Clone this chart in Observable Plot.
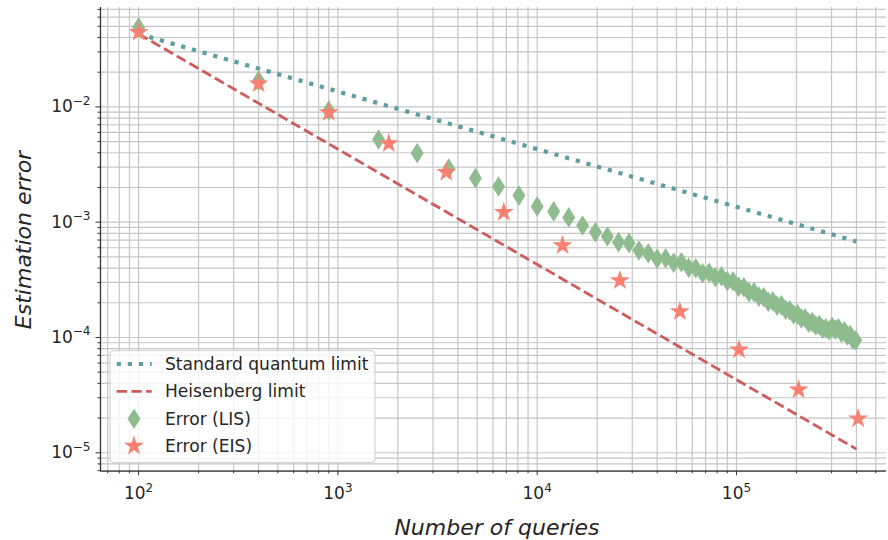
<!DOCTYPE html>
<html><head><meta charset="utf-8">
<script src="https://cdn.jsdelivr.net/npm/d3@7"></script>
<script src="https://cdn.jsdelivr.net/npm/@observablehq/plot@0.6"></script>
<style>
html,body{margin:0;padding:0;background:#fff;}
#chart{width:888px;height:540px;}
</style></head><body><div id="chart"></div>
<script>
// ---- data ----
const lisQueries = [100, 400, 900, 1600, 2500, 3600, 4900, 6400, 8100, 10000, 12100, 14400, 16900, 19600, 22500, 25600, 28900, 32400, 36100, 40000, 44100, 48400, 52900, 57600, 62500, 67600, 72900, 78400, 84100, 90000, 96100, 102400, 108900, 115600, 122500, 129600, 136900, 144400, 152100, 160000, 168100, 176400, 184900, 193600, 202500, 211600, 220900, 230400, 240100, 250000, 260100, 270400, 280900, 291600, 302500, 313600, 324900, 336400, 348100, 360000, 372100, 384400, 396900];
const lisError = [0.0489, 0.0169, 0.00931, 0.00521, 0.00397, 0.00292, 0.00241, 0.00204, 0.00170, 0.00137, 0.00124, 0.00110, 0.000936, 0.000819, 0.000752, 0.000671, 0.000658, 0.000568, 0.000538, 0.000483, 0.000486, 0.000445, 0.000449, 0.000403, 0.000398, 0.000361, 0.000364, 0.000333, 0.000340, 0.000308, 0.000307, 0.000276, 0.000273, 0.000247, 0.000247, 0.000226, 0.000223, 0.000204, 0.000206, 0.000189, 0.000190, 0.000174, 0.000172, 0.000158, 0.000159, 0.000146, 0.000147, 0.000134, 0.000136, 0.000127, 0.000128, 0.000119, 0.000120, 0.000115, 0.000123, 0.000117, 0.000120, 0.000110, 0.000113, 0.000104, 0.000105, 0.0000957, 0.0000946];
const eisQueries = [100, 400, 900, 1800, 3500, 6800, 13400, 26000, 52000, 103000, 205000, 408000];
const eisError = [0.0445, 0.0159, 0.00894, 0.00482, 0.00271, 0.00122, 0.000628, 0.000312, 0.000168, 0.0000782, 0.0000352, 0.0000197];
const sqlQueries = [100, 400000];
const sqlError = [0.043, 0.00068];
const hlQueries = [100, 400000];
const hlError = [0.043, 0.00001075];
const seriesNames = ["Standard quantum limit", "Heisenberg limit", "Error (LIS)", "Error (EIS)"];
const xMajorTicks = [100, 1000, 10000, 100000];
const yMajorTicks = [1e-5, 1e-4, 1e-3, 1e-2];
const xLabel = "Number of queries";
const yLabel = "Estimation error";

// ---- build tables ----
const lis = lisQueries.map((n, i) => ({n, err: lisError[i]}));
const eis = eisQueries.map((n, i) => ({n, err: eisError[i]}));
const sql = sqlQueries.map((n, i) => ({n, err: sqlError[i]}));
const hl = hlQueries.map((n, i) => ({n, err: hlError[i]}));

const xDomain = [64.4, 566000];
const yDomain = [6.92e-6, 0.0728];

function minorTicks(domain) {
  const out = [];
  for (let e = Math.floor(Math.log10(domain[0])); e <= Math.ceil(Math.log10(domain[1])); e++) {
    for (let m = 2; m <= 9; m++) {
      const v = +(m * Math.pow(10, e)).toPrecision(6);
      if (v >= domain[0] && v <= domain[1]) out.push(v);
    }
  }
  return out;
}
const xMinor = minorTicks(xDomain);
const yMinor = minorTicks(yDomain);
const powFmt = v => { const e = Math.round(Math.log10(v)); return "10^" + (e < 0 ? "\u2212" + (-e) : e); };

const thinDiamond = {
  draw(ctx, size) {
    const r = Math.sqrt(size / Math.PI), w = r * 0.63;
    ctx.moveTo(0, -r); ctx.lineTo(w, 0); ctx.lineTo(0, r); ctx.lineTo(-w, 0); ctx.closePath();
  }
};

const C = {sql: "#5F9EA0", hl: "#CD5C5C", lis: "#8FBC8F", eis: "#FA8072", grid: "#c6c6c6", ink: "#262626", axis: "#333333"};
const diamondR = 10.3, starR = 6.28;

const chart = Plot.plot({
  width: 888, height: 540,
  marginLeft: 100, marginRight: 2, marginTop: 7, marginBottom: 69.3,
  style: {fontFamily: "DejaVu Sans", fontSize: "17px", color: C.ink, background: "white"},
  x: {type: "log", domain: xDomain},
  y: {type: "log", domain: yDomain},
  marks: [
    Plot.gridX([...xMinor, ...xMajorTicks], {stroke: C.grid, strokeOpacity: 1, strokeWidth: 1.2}),
    Plot.gridY([...yMinor, ...yMajorTicks], {stroke: C.grid, strokeOpacity: 1, strokeWidth: 1.2}),
    Plot.line(sql, {x: "n", y: "err", stroke: C.sql, strokeWidth: 4.2, strokeDasharray: "4.2 6.9", strokeLinecap: "butt"}),
    Plot.line(hl, {x: "n", y: "err", stroke: C.hl, strokeWidth: 2.8, strokeDasharray: "10.3 4.4", strokeLinecap: "butt"}),
    Plot.dot(lis, {x: "n", y: "err", symbol: thinDiamond, r: diamondR, fill: C.lis, stroke: "none"}),
    Plot.dot(eis, {x: "n", y: "err", symbol: "star", r: starR, fill: C.eis, stroke: "none"}),
    Plot.ruleX([xDomain[0]], {stroke: C.axis, strokeWidth: 1.3}),
    Plot.ruleY([yDomain[0]], {stroke: C.axis, strokeWidth: 1.3}),
    Plot.axisX(xMajorTicks, {tickSize: 4.5, tickPadding: 11.5, tickFormat: powFmt, label: null, stroke: C.axis, fill: C.ink}),
    Plot.axisX(xMinor, {tickSize: 2.5, tickFormat: () => "", label: null, stroke: C.axis}),
    Plot.axisY(yMajorTicks, {tickSize: 4.5, tickPadding: 5.5, tickFormat: powFmt, label: null, stroke: C.axis, fill: C.ink}),
    Plot.axisY(yMinor, {tickSize: 2.5, tickFormat: () => "", label: null, stroke: C.axis})
  ]
});
document.getElementById("chart").appendChild(chart);

const svg = d3.select(chart);
// superscripts in tick labels
svg.selectAll("text").each(function () {
  const t = this.textContent;
  if (t.includes("^")) {
    const [b, e] = t.split("^");
    const el = d3.select(this);
    el.text(null);
    el.append("tspan").text(b);
    el.append("tspan").attr("dy", -7.5).attr("font-size", "12px").text(e);
  }
});

// axis titles
svg.append("text").attr("x", 497).attr("y", 535).attr("text-anchor", "middle")
  .attr("font-family", "DejaVu Sans").attr("font-style", "italic").attr("font-size", 22).attr("fill", C.ink).text(xLabel);
svg.append("text").attr("transform", "translate(31,240) rotate(-90)").attr("text-anchor", "middle")
  .attr("font-family", "DejaVu Sans").attr("font-style", "italic").attr("font-size", 22).attr("fill", C.ink).text(yLabel);

// legend
const lg = svg.append("g").attr("font-family", "DejaVu Sans").attr("font-size", 17.1)
  .attr("fill", C.ink).attr("text-anchor", "start");
lg.append("rect").attr("x", 110).attr("y", 350.7).attr("width", 265).attr("height", 112).attr("rx", 4)
  .attr("fill", "white").attr("fill-opacity", 0.8).attr("stroke", "#cccccc").attr("stroke-width", 1);
const rowY = [364, 391.3, 418.7, 446];
lg.append("line").attr("x1", 116.7).attr("x2", 151.7).attr("y1", rowY[0]).attr("y2", rowY[0])
  .attr("stroke", C.sql).attr("stroke-width", 4.2).attr("stroke-dasharray", "4.2 6.9");
lg.append("line").attr("x1", 116.7).attr("x2", 151.7).attr("y1", rowY[1]).attr("y2", rowY[1])
  .attr("stroke", C.hl).attr("stroke-width", 2.8).attr("stroke-dasharray", "10.3 4.4");
lg.append("path").attr("transform", `translate(134,${rowY[2]})`).attr("fill", C.lis)
  .attr("d", d3.symbol(thinDiamond, Math.PI * diamondR * diamondR)());
lg.append("path").attr("transform", `translate(134,${rowY[3]})`).attr("fill", C.eis)
  .attr("d", d3.symbol(d3.symbolStar, Math.PI * starR * starR)());
seriesNames.forEach((s, i) => {
  lg.append("text").attr("x", 165).attr("y", rowY[i]).attr("dy", "0.36em").attr("text-anchor", "start").text(s);
});
</script>
</body></html>
